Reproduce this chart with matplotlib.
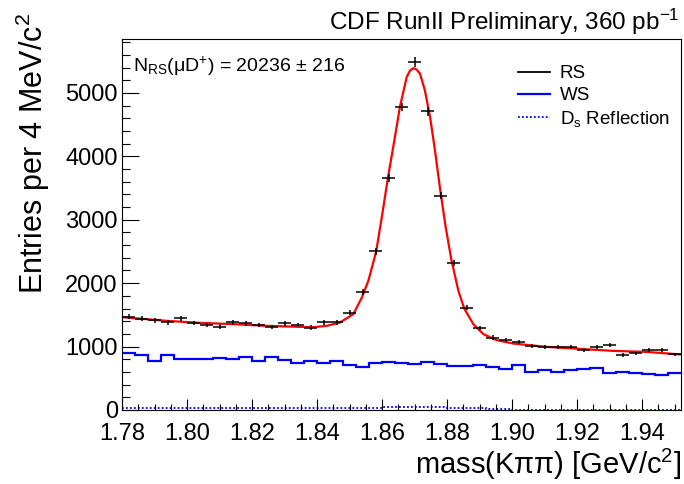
import numpy as np
import matplotlib
matplotlib.use('Agg')
import matplotlib.pyplot as plt
from matplotlib.ticker import MultipleLocator, FormatStrFormatter

plt.rcParams['font.family'] = ['Liberation Sans', 'DejaVu Sans']
plt.rcParams['mathtext.fontset'] = 'custom'
plt.rcParams['mathtext.rm'] = 'Liberation Sans'
plt.rcParams['mathtext.it'] = 'Liberation Sans:italic'
plt.rcParams['mathtext.default'] = 'regular'

# ------------ DATA ----------------------------
mass_lo, mass_hi, bin_width = 1.78, 1.952, 0.004

# RS data, entries per 4 MeV bin (43 bins)
rs_counts = [1474, 1437, 1417, 1385, 1443, 1374, 1338, 1316, 1385, 1364,
             1343, 1311, 1364, 1338, 1300, 1380, 1385, 1537, 1860, 2500,
             3660, 4776, 5487, 4708, 3381, 2320, 1616, 1290, 1142, 1101,
             1070, 1013, 987, 995, 993, 950, 988, 1018, 871, 891,
             952, 940, 876]

# WS histogram
ws_counts = [900, 864, 779, 869, 806, 806, 806, 816, 806, 832,
             769, 837, 785, 748, 774, 742, 774, 706, 679, 742,
             763, 742, 732, 763, 722, 690, 700, 716, 674, 653,
             711, 605, 627, 605, 627, 653, 669, 585, 605, 585,
             564, 553, 580]

# Ds reflection histogram
ds_counts = [25, 25, 25, 25, 25, 25, 25, 25, 35, 35,
             35, 35, 35, 35, 35, 35, 35, 35, 35, 35,
             55, 55, 40, 40, 40, 25, 25, 25, 10, 10,
             4, 4, 4, 4, 4, 4, 4, 4, 4, 4,
             4, 4, 4]

# fit curve
fit_mass = [1.7805, 1.7937, 1.8040, 1.8142, 1.8245, 1.8348, 1.8389, 1.8430,
            1.8471, 1.8512, 1.8538, 1.8558, 1.8582, 1.8601, 1.8619, 1.8638,
            1.8655, 1.8676, 1.8686, 1.8696, 1.8706, 1.8717, 1.8732, 1.8748,
            1.8763, 1.8778, 1.8796, 1.8814, 1.8835, 1.8853, 1.8881, 1.8912,
            1.8953, 1.9004, 1.9107, 1.9209, 1.9312, 1.9414, 1.9520]
fit_vals = [1462, 1406, 1374, 1354, 1327, 1311, 1306, 1327,
            1380, 1512, 1774, 2038, 2496, 3092, 3686, 4250,
            4776, 5250, 5350, 5390, 5370, 5303, 5039, 4618,
            4092, 3512, 2880, 2354, 1880, 1600, 1354, 1196,
            1101, 1048, 995, 964, 932, 916, 875]

# ------------ DRAW ----------------------------
edges = mass_lo + bin_width * np.arange(len(rs_counts) + 1)
centers = 0.5 * (edges[1:] + edges[:-1])
rs_counts = np.array(rs_counts)

fig = plt.figure(figsize=(6.84, 4.84), dpi=100)
ax = fig.add_axes([122/684, 1 - 410/484, 559/684, 371/484])

ax.stairs(ds_counts, edges, color='blue', lw=1.3, ls=(0, (1, 1.2)), baseline=None)
ax.stairs(ws_counts, edges, color='blue', lw=1.6, baseline=None)
ax.plot(fit_mass, fit_vals, color='red', lw=1.6)
ax.errorbar(centers, rs_counts, xerr=bin_width/2, yerr=np.sqrt(rs_counts),
            fmt='none', ecolor='black', elinewidth=1.1, capsize=0)

ax.set_xlim(mass_lo, mass_hi)
ax.set_ylim(0, 5850)

ax.xaxis.set_major_locator(MultipleLocator(0.02))
ax.xaxis.set_minor_locator(MultipleLocator(0.005))
ax.xaxis.set_major_formatter(FormatStrFormatter('%.2f'))
ax.yaxis.set_major_locator(MultipleLocator(1000))
ax.yaxis.set_minor_locator(MultipleLocator(200))

ax.tick_params(which='both', direction='in', top=False, right=False,
               labelsize=17, color='black', width=0.8)
ax.tick_params(axis='x', which='major', length=8, pad=9)
ax.tick_params(axis='x', which='minor', length=4)
ax.tick_params(axis='y', which='major', length=12, pad=3)
ax.tick_params(axis='y', which='minor', length=6)

for s in ax.spines.values():
    s.set_linewidth(0.8)

ax.set_xlabel('mass(K\u03c0\u03c0) [GeV/c$^{2}$]', fontsize=21, loc='right')
ax.xaxis.set_label_coords(1.0, -0.1)
ax.set_ylabel('Entries per 4 MeV/c$^{2}$', fontsize=22, loc='top')
ax.yaxis.set_label_coords(-0.125, 1.07)

fig.text(680/684, 1 - 22/484, 'CDF RunII Preliminary, 360 pb$^{-1}$',
         ha='right', va='center', fontsize=17.5)
ax.text(0.02, 0.925, 'N$_{RS}$(\u03bcD$^{+}$) = 20236 \u00b1 216',
        transform=ax.transAxes, ha='left', va='center', fontsize=14)

ax.plot([], [], color='black', lw=1.3, label='RS')
ax.plot([], [], color='blue', lw=1.6, label='WS')
ax.plot([], [], color='blue', lw=1.3, ls=(0, (1, 1.2)), label='D$_{s}$ Reflection')
ax.legend(loc='upper right', bbox_to_anchor=(1.01, 0.975), frameon=False,
          fontsize=13.5, handlelength=1.7, handletextpad=0.5, labelspacing=0.25)

plt.savefig('out.png', dpi=100)
